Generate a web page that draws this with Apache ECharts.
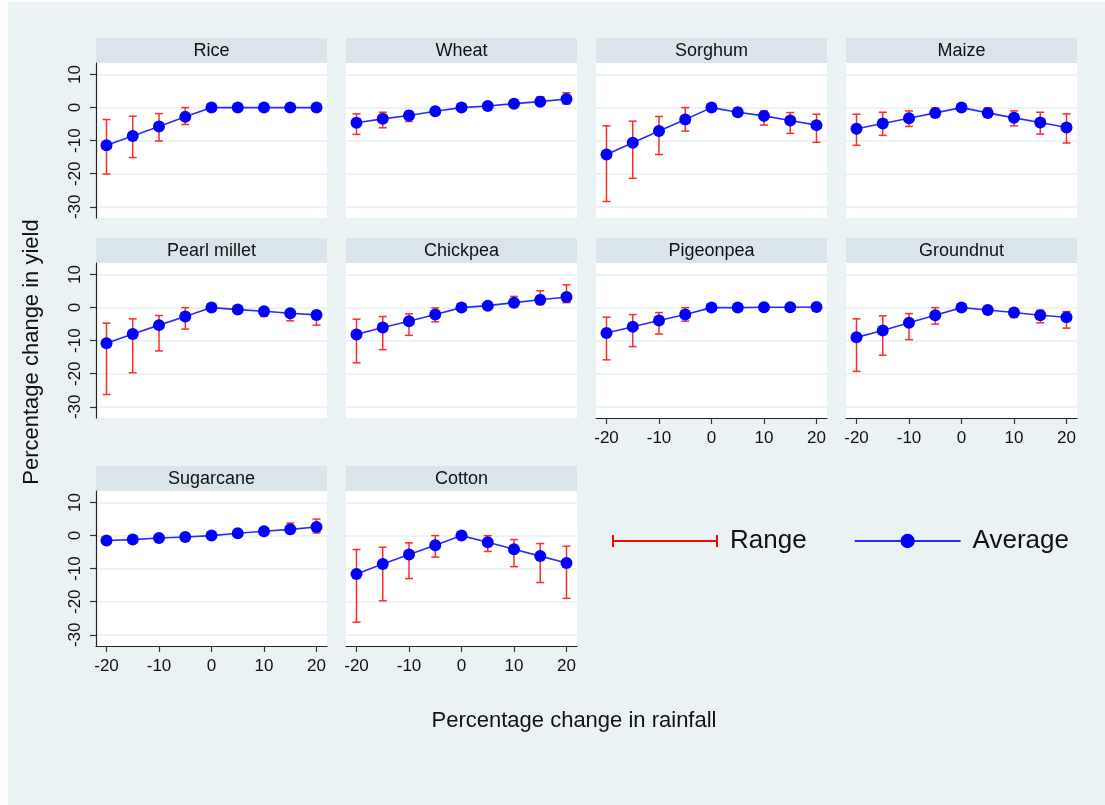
<!DOCTYPE html>
<html>
<head>
<meta charset="utf-8">
<script src="https://cdn.jsdelivr.net/npm/echarts@6/dist/echarts.min.js"></script>
<style>
html,body{margin:0;padding:0;background:#fff;}
#chart{width:1105px;height:805px;}
</style>
</head>
<body>
<div id="chart"></div>
<script>
// ---- data ----
const rainfall = [-20, -15, -10, -5, 0, 5, 10, 15, 20];
const crops = ['Rice','Wheat','Sorghum','Maize','Pearl millet','Chickpea','Pigeonpea','Groundnut','Sugarcane','Cotton'];
const yTicks = [-30, -20, -10, 0, 10];
const xTicks = [-20, -10, 0, 10, 20];

const riceAvg  = [-11.4, -8.6, -5.7, -2.8, 0, 0, 0, 0, 0];
const riceMin  = [-20.1, -15.1, -10.1, -5.1, 0, 0, 0, 0, 0];
const riceMax  = [-3.6, -2.6, -1.8, 0, 0, 0, 0, 0, 0];

const wheatAvg = [-4.6, -3.4, -2.4, -1.1, 0, 0.5, 1.2, 1.8, 2.6];
const wheatMin = [-8.1, -6.1, -4.2, -1.9, 0, 0.4, 1.0, 0.8, 1.1];
const wheatMax = [-1.9, -1.4, -1.1, -0.4, 0, 0.7, 1.4, 3.3, 4.5];

const sorghumAvg = [-14.2, -10.6, -7.1, -3.6, 0, -1.4, -2.5, -3.9, -5.3];
const sorghumMin = [-28.4, -21.4, -14.2, -7.1, 0, -2.6, -5.3, -7.8, -10.5];
const sorghumMax = [-5.5, -4.1, -2.7, 0, 0, -0.1, -1.0, -1.5, -2.0];

const maizeAvg = [-6.4, -4.8, -3.2, -1.6, 0, -1.6, -3.1, -4.5, -6.0];
const maizeMin = [-11.4, -8.4, -5.7, -2.9, 0, -2.8, -5.5, -8.0, -10.7];
const maizeMax = [-2.0, -1.4, -1.0, -0.1, 0, -0.1, -1.0, -1.4, -1.9];

const milletAvg = [-10.8, -8.0, -5.3, -2.7, 0, -0.6, -1.1, -1.7, -2.2];
const milletMin = [-26.3, -19.7, -13.1, -6.5, 0, -1.2, -2.7, -4.0, -5.3];
const milletMax = [-4.7, -3.4, -2.4, 0, 0, -0.2, -0.2, -0.8, -1.1];

const chickpeaAvg = [-8.1, -6.0, -4.1, -2.1, 0, 0.6, 1.5, 2.4, 3.2];
const chickpeaMin = [-16.7, -12.7, -8.4, -4.3, 0, 0.3, 0.5, 0.9, 1.5];
const chickpeaMax = [-3.5, -2.7, -1.9, -0.1, 0, 1.2, 3.4, 5.1, 6.9];

const pigeonpeaAvg = [-7.7, -5.8, -3.9, -2.1, 0, 0, 0.1, 0.1, 0.2];
const pigeonpeaMin = [-15.8, -11.8, -8.0, -4.1, 0, 0, 0, 0, 0];
const pigeonpeaMax = [-2.9, -2.1, -1.5, 0, 0, 0, 0.2, 0.2, 0.3];

const groundnutAvg = [-9.0, -6.9, -4.6, -2.3, 0, -0.7, -1.5, -2.3, -2.9];
const groundnutMin = [-19.3, -14.4, -9.7, -5.0, 0, -1.2, -3.0, -4.6, -6.2];
const groundnutMax = [-3.4, -2.5, -1.8, 0, 0, -0.3, -0.8, -0.8, -1.2];

const sugarcaneAvg = [-1.5, -1.2, -0.7, -0.4, 0, 0.7, 1.3, 1.9, 2.6];
const sugarcaneMin = [-2.7, -2.2, -1.3, -0.8, 0, 0.4, 0.5, 0.6, 0.8];
const sugarcaneMax = [-1.0, -0.6, -0.3, 0, 0, 1.0, 2.3, 3.8, 5.0];

const cottonAvg = [-11.6, -8.6, -5.7, -2.9, 0, -2.0, -4.1, -6.2, -8.3];
const cottonMin = [-26.2, -19.7, -13.0, -6.5, 0, -4.8, -9.4, -14.2, -19.0];
const cottonMax = [-4.2, -3.5, -2.2, 0, 0, 0, -1.2, -2.4, -3.2];

const avgs = [riceAvg, wheatAvg, sorghumAvg, maizeAvg, milletAvg, chickpeaAvg, pigeonpeaAvg, groundnutAvg, sugarcaneAvg, cottonAvg];
const mins = [riceMin, wheatMin, sorghumMin, maizeMin, milletMin, chickpeaMin, pigeonpeaMin, groundnutMin, sugarcaneMin, cottonMin];
const maxs = [riceMax, wheatMax, sorghumMax, maizeMax, milletMax, chickpeaMax, pigeonpeaMax, groundnutMax, sugarcaneMax, cottonMax];

// ---- layout ----
const FONT = '"Liberation Sans", Arial, Helvetica, sans-serif';
const colLeft = [96, 346, 596, 846];
const panelW = 231;
const headerTop = [38, 238, 466];
const headerH = 25;
const plotH = 155;
const showX = [false, false, false, false, false, false, true, true, true, true];

const grids = [], xAxes = [], yAxes = [], series = [], graphics = [];

graphics.push({type:'rect', shape:{x:8, y:2, width:1097, height:803}, style:{fill:'#EAF2F3'}, z:-10, silent:true});

crops.forEach((name, i) => {
  const row = Math.floor(i / 4), col = i % 4;
  const left = colLeft[col];
  const top = headerTop[row] + headerH;
  grids.push({left: left, top: top, width: panelW, height: plotH, show: true,
    backgroundColor: '#ffffff', borderWidth: 0, containLabel: false});
  graphics.push({type:'rect', shape:{x:left, y:headerTop[row], width:panelW, height:headerH},
    style:{fill:'#D9E5EB'}, silent:true});
  graphics.push({type:'text', x:left + panelW/2, y:headerTop[row] + headerH/2 + 1,
    style:{text:name, font:'18px ' + FONT, fill:'#111', textAlign:'center', textVerticalAlign:'middle'}, silent:true});
  const firstCol = col === 0;
  xAxes.push({type:'value', gridIndex:i, min:-22, max:22,
    axisLine:{show:showX[i], onZero:false, lineStyle:{color:'#222', width:1.2}},
    axisTick:{show:showX[i], length:6, customValues: xTicks, lineStyle:{color:'#333', width:1.2}},
    axisLabel:{show:showX[i], customValues: xTicks, fontSize:17, fontFamily:FONT, color:'#111', margin:12},
    splitLine:{show:false}});
  yAxes.push({type:'value', gridIndex:i, min:-33.4, max:13.5,
    axisLine:{show:firstCol, onZero:false, lineStyle:{color:'#222', width:1.2}},
    axisTick:{show:firstCol, length:6, customValues: yTicks, lineStyle:{color:'#333', width:1.2}},
    axisLabel:{show:firstCol, customValues: yTicks, rotate:90, fontSize:17, fontFamily:FONT, color:'#111', margin:12},
    splitLine:{show:true, lineStyle:{color:'#E6EFF1', width:1.6}}});
  const rangeData = rainfall.map((x, k) => [x, mins[i][k], maxs[i][k]]);
  series.push({type:'custom', name:'Range', xAxisIndex:i, yAxisIndex:i, z:2,
    itemStyle:{color:'#ff0000'},
    data: rangeData,
    encode:{x:0, y:[1,2]},
    renderItem: function(params, api) {
      const x = api.value(0);
      const lo = api.coord([x, api.value(1)]);
      const hi = api.coord([x, api.value(2)]);
      const w = 4;
      const st = {stroke:'#ff2a2a', lineWidth:1.5, fill:null};
      return {type:'group', children:[
        {type:'line', shape:{x1:lo[0], y1:lo[1], x2:hi[0], y2:hi[1]}, style:st},
        {type:'line', shape:{x1:hi[0]-w, y1:hi[1], x2:hi[0]+w, y2:hi[1]}, style:st},
        {type:'line', shape:{x1:lo[0]-w, y1:lo[1], x2:lo[0]+w, y2:lo[1]}, style:st}
      ]};
    }});
  series.push({type:'line', name:'Average', xAxisIndex:i, yAxisIndex:i, z:3,
    data: rainfall.map((x, k) => [x, avgs[i][k]]),
    symbol:'circle', symbolSize:12, showSymbol:true,
    itemStyle:{color:'#0000ff'}, lineStyle:{color:'#2a2aff', width:1.6},
    animation:false});
});

graphics.push({type:'text', x:32, y:352, rotation:Math.PI/2,
  style:{text:'Percentage change in yield', font:'22px ' + FONT, fill:'#111', textAlign:'center', textVerticalAlign:'middle'}, silent:true});
graphics.push({type:'text', x:574, y:721,
  style:{text:'Percentage change in rainfall', font:'22px ' + FONT, fill:'#111', textAlign:'center', textVerticalAlign:'middle'}, silent:true});

const chart = echarts.init(document.getElementById('chart'), null, {renderer:'canvas'});
chart.setOption({
  animation:false,
  backgroundColor:'#ffffff',
  grid: grids,
  xAxis: xAxes,
  yAxis: yAxes,
  series: series,
  graphic: graphics,
  legend: {
    left: 607, top: 523, itemWidth: 106, itemHeight: 18, itemGap: 47,
    textStyle:{fontSize:26, fontFamily:FONT, color:'#111', padding:[0,0,0,7]},
    data: [
      {name:'Range', icon:'path://M53,0h0.01v0.01h-0.01z M53,17.99h0.01v0.01h-0.01z M0,3h2v12h-2z M0,8h106v2h-106z M104,3h2v12h-2z', itemStyle:{color:'#ff0000'}},
      {name:'Average'}
    ],
    selectedMode:false
  }
});
</script>
</body>
</html>
